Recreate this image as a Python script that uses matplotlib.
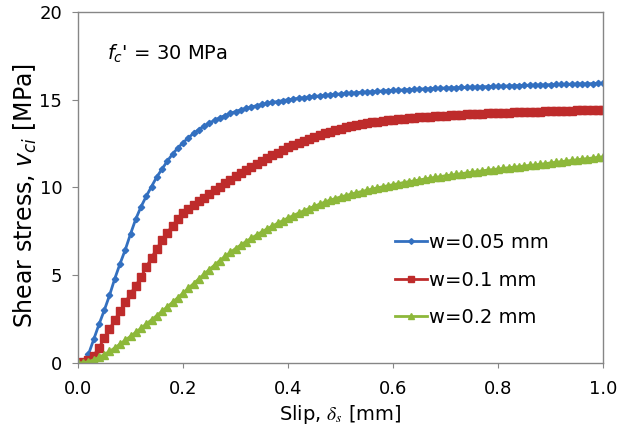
import matplotlib
matplotlib.use("Agg")
import matplotlib.pyplot as plt
import numpy as np

plt.rcParams['font.family'] = ['DejaVu Sans']
plt.rcParams['mathtext.fontset'] = 'custom'
plt.rcParams['mathtext.rm'] = 'DejaVu Sans'
plt.rcParams['mathtext.it'] = 'DejaVu Sans:italic'

# slip values (mm), one marker every 0.01 mm
slip = np.round(np.arange(0, 101) * 0.01, 2)

# shear stress (MPa)
w005 = [0.0, 0.05, 0.5, 1.35, 2.2, 3.0, 3.85, 4.8, 5.65, 6.45,
        7.35, 8.2, 8.9, 9.5, 10.05, 10.6, 11.05, 11.5, 11.9, 12.25,
        12.55, 12.83, 13.08, 13.3, 13.5, 13.67, 13.83, 13.97, 14.1, 14.22,
        14.33, 14.42, 14.51, 14.59, 14.66, 14.73, 14.79, 14.85, 14.9, 14.95,
        15.0, 15.04, 15.08, 15.12, 15.16, 15.19, 15.22, 15.25, 15.28, 15.31,
        15.33, 15.36, 15.38, 15.4, 15.42, 15.44, 15.46, 15.48, 15.5, 15.52,
        15.53, 15.55, 15.56, 15.58, 15.59, 15.61, 15.62, 15.63, 15.65, 15.66,
        15.67, 15.68, 15.69, 15.7, 15.71, 15.72, 15.73, 15.74, 15.75, 15.76,
        15.77, 15.78, 15.79, 15.8, 15.81, 15.82, 15.83, 15.84, 15.84, 15.85,
        15.86, 15.87, 15.87, 15.88, 15.89, 15.9, 15.91, 15.91, 15.92, 15.93,
        15.94]
w01 = [0.0, 0.05, 0.18, 0.42, 0.88, 1.4, 1.92, 2.45, 2.95, 3.45,
       3.93, 4.4, 4.9, 5.45, 6.0, 6.5, 7.0, 7.42, 7.82, 8.2,
       8.52, 8.79, 9.0, 9.22, 9.43, 9.64, 9.84, 10.04, 10.24, 10.44,
       10.63, 10.82, 11.0, 11.18, 11.35, 11.52, 11.68, 11.84, 11.99, 12.14,
       12.28, 12.42, 12.55, 12.67, 12.79, 12.9, 13.0, 13.1, 13.19, 13.27,
       13.35, 13.42, 13.49, 13.55, 13.61, 13.66, 13.71, 13.75, 13.79, 13.83,
       13.86, 13.89, 13.92, 13.95, 13.97, 14.0, 14.02, 14.04, 14.06, 14.08,
       14.1, 14.12, 14.13, 14.15, 14.17, 14.18, 14.2, 14.21, 14.22, 14.24,
       14.25, 14.26, 14.27, 14.28, 14.29, 14.3, 14.31, 14.32, 14.33, 14.34,
       14.35, 14.36, 14.36, 14.37, 14.38, 14.39, 14.39, 14.4, 14.41, 14.41,
       14.42]
w02 = [0.0, 0.02, 0.08, 0.18, 0.32, 0.48, 0.66, 0.86, 1.08, 1.3,
       1.52, 1.75, 1.98, 2.22, 2.46, 2.7, 2.95, 3.2, 3.46, 3.72,
       3.98, 4.25, 4.52, 4.79, 5.06, 5.32, 5.58, 5.84, 6.08, 6.3,
       6.52, 6.72, 6.92, 7.11, 7.29, 7.47, 7.64, 7.8, 7.96, 8.11,
       8.26, 8.4, 8.54, 8.67, 8.8, 8.93, 9.05, 9.17, 9.28, 9.37,
       9.46, 9.54, 9.62, 9.7, 9.77, 9.84, 9.91, 9.98, 10.04, 10.1,
       10.16, 10.22, 10.28, 10.33, 10.38, 10.43, 10.48, 10.53, 10.58, 10.62,
       10.67, 10.71, 10.75, 10.79, 10.83, 10.87, 10.91, 10.95, 10.99, 11.02,
       11.06, 11.09, 11.13, 11.16, 11.19, 11.23, 11.26, 11.29, 11.32, 11.36,
       11.4, 11.44, 11.47, 11.51, 11.54, 11.58, 11.61, 11.65, 11.68, 11.72,
       11.75]

labels = ["w=0.05 mm", "w=0.1 mm", "w=0.2 mm"]

fig = plt.figure(figsize=(6.17, 4.30), dpi=100)
ax = fig.add_axes([78/617, 1 - 363/430, 525/617, 351/430])

ax.plot(slip, w005, color="#3370c0", lw=2, marker="D", ms=3.2,
        label=labels[0])
ax.plot(slip, w01, color="#be2b2b", lw=2, marker="s", ms=5.2,
        label=labels[1])
ax.plot(slip, w02, color="#8db83a", lw=2, marker="^", ms=5.5,
        label=labels[2])

ax.set_xlim(0, 1.0)
ax.set_ylim(0, 20)
ax.set_xticks(np.arange(0, 1.01, 0.2))
ax.set_yticks(np.arange(0, 21, 5))
ax.xaxis.set_major_formatter(matplotlib.ticker.FormatStrFormatter('%.1f'))
for s in ax.spines.values():
    s.set_color("#868686")
    s.set_linewidth(1)
ax.tick_params(direction="out", color="#868686", labelsize=13)
ax.tick_params(axis="x", length=3.6, pad=9)
ax.tick_params(axis="y", length=4.3, pad=7)

ax.set_xlabel(r"Slip, $\delta_s$ [mm]", fontsize=14, math_fontfamily="stix",
              labelpad=3)
ax.set_ylabel(r"Shear stress, $v_{ci}$ [MPa]", fontsize=17)
ax.yaxis.set_label_coords(-0.074, 0.476)

ax.text(0.055, 0.88, r"$f_c$' = 30 MPa", transform=ax.transAxes,
        fontsize=14, va="center", ha="left")

ax.legend(loc="center left", bbox_to_anchor=(0.604, 0.236), frameon=False,
          fontsize=14, handlelength=1.65, handletextpad=0.1, labelspacing=0.95,
          borderpad=0, borderaxespad=0, markerscale=0.9)

fig.savefig("out.png", dpi=100)
